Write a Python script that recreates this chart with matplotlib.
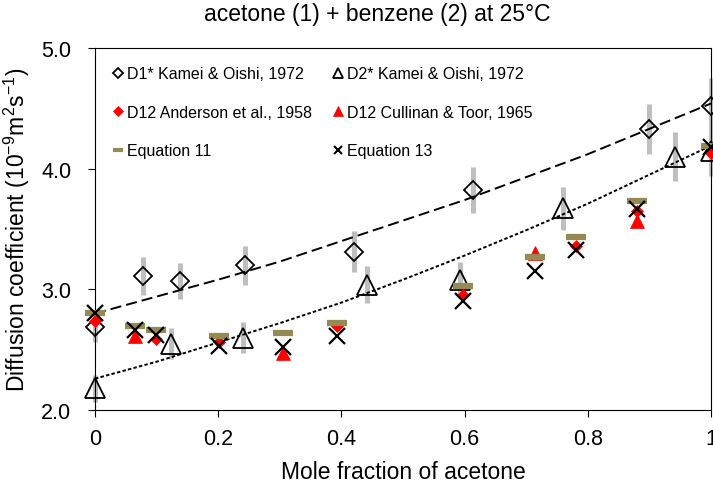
import matplotlib
matplotlib.use("Agg")
import matplotlib.pyplot as plt
from matplotlib.lines import Line2D

# ---------------- data ----------------
# D1* Kamei & Oishi, 1972 (open diamonds) with error bars
d1_x = [0.0, 0.078, 0.138, 0.244, 0.421, 0.614, 0.899, 1.0]
d1_y = [2.69, 3.11, 3.07, 3.20, 3.31, 3.82, 4.33, 4.52]
d1_err = [0.13, 0.16, 0.15, 0.16, 0.17, 0.19, 0.21, 0.23]

# D2* Kamei & Oishi, 1972 (open triangles) with error bars
d2_x = [0.0, 0.124, 0.241, 0.441, 0.593, 0.759, 0.942, 1.0]
d2_y = [2.18, 2.55, 2.60, 3.04, 3.08, 3.67, 4.10, 4.15]
d2_err = [0.11, 0.13, 0.13, 0.15, 0.15, 0.18, 0.20, 0.21]

# D12 Anderson et al., 1958 (red diamonds)
and_x = [0.0, 0.099, 0.201, 0.393, 0.598, 0.781, 0.880, 1.0]
and_y = [2.74, 2.59, 2.56, 2.70, 2.95, 3.36, 3.65, 4.13]

# D12 Cullinan & Toor, 1965 (red triangles)
cul_x = [0.065, 0.305, 0.714, 0.880]
cul_y = [2.61, 2.47, 3.30, 3.57]

# Equation 11 (olive bars)
eq11_x = [0.0, 0.065, 0.099, 0.201, 0.305, 0.393, 0.598, 0.714, 0.781, 0.880, 1.0]
eq11_y = [2.80, 2.70, 2.665, 2.615, 2.64, 2.72, 3.03, 3.265, 3.43, 3.73, 4.19]

# Equation 13 (crosses)
eq13_x = [0.0, 0.065, 0.099, 0.201, 0.305, 0.393, 0.598, 0.714, 0.781, 0.880, 1.0]
eq13_y = [2.80, 2.66, 2.62, 2.53, 2.52, 2.615, 2.905, 3.15, 3.33, 3.665, 4.18]

# trend curves
curve_x = [0.0, 0.1, 0.2, 0.3, 0.4, 0.5, 0.6, 0.7, 0.8, 0.9, 1.0]
trend1_y = [2.80, 2.94, 3.08, 3.23, 3.40, 3.57, 3.74, 3.93, 4.12, 4.33, 4.54]
trend2_y = [2.26, 2.40, 2.56, 2.72, 2.89, 3.08, 3.28, 3.49, 3.71, 3.95, 4.19]

x_ticks = [0, 0.2, 0.4, 0.6, 0.8, 1.0]
x_ticklabels = ["0", "0.2", "0.4", "0.6", "0.8", "1"]
y_ticks = [2.0, 3.0, 4.0, 5.0]
y_ticklabels = ["2.0", "3.0", "4.0", "5.0"]

title = "acetone (1) + benzene (2) at 25°C"
xlabel = "Mole fraction of acetone"
ylabel = r"Diffusion coefficient (10$^{-9}$m$^{2}$s$^{-1}$)"
labels = ["D1* Kamei & Oishi, 1972", "D12 Anderson et al., 1958", "Equation 11",
          "D2* Kamei & Oishi, 1972", "D12 Cullinan & Toor, 1965", "Equation 13"]

# ---------------- style ----------------
plt.rcParams['font.family'] = ['Liberation Sans', 'DejaVu Sans']
plt.rcParams['mathtext.default'] = 'regular'
plt.rcParams['lines.scale_dashes'] = False

OLIVE = '#948A54'
GREY = '#BFBFBF'
RED = '#FF0000'

fig = plt.figure(figsize=(7.13, 4.89), dpi=100)
ax = fig.add_axes([95 / 713, 78 / 489, 616 / 713, 362 / 489])

# error bars
ax.errorbar(d1_x, d1_y, yerr=d1_err, fmt='none', ecolor=GREY, elinewidth=3.6,
            capsize=0, zorder=2, clip_on=False)
ax.errorbar(d2_x, d2_y, yerr=d2_err, fmt='none', ecolor=GREY, elinewidth=3.6,
            capsize=0, zorder=2, clip_on=False)

# trend curves
ax.plot(curve_x, trend1_y, color='black', lw=1.4, dashes=(8, 3.6), zorder=3)
ax.plot(curve_x, trend2_y, color='black', lw=1.4, dashes=(2.5, 1.6), zorder=3)

# markers
ax.plot(d1_x, d1_y, linestyle='none', marker='D', ms=9, mfc='none', mec='black',
        mew=1.3, zorder=4, clip_on=False)
ax.plot(d2_x, d2_y, linestyle='none', marker='^', ms=14, mfc='none', mec='black',
        mew=1.3, zorder=4, clip_on=False)
ax.plot(and_x, and_y, linestyle='none', marker='D', ms=6.6, mfc=RED, mec=RED,
        mew=0.5, zorder=5, clip_on=False)
ax.plot(cul_x, cul_y, linestyle='none', marker='^', ms=10.5, mfc=RED, mec=RED,
        mew=0.5, zorder=5, clip_on=False)
ax.plot(eq11_x, eq11_y, linestyle='none', marker='_', ms=15, mec=OLIVE,
        mew=4.5, zorder=6, clip_on=False)
ax.plot(eq13_x, eq13_y, linestyle='none', marker='x', ms=12, mec='black',
        mew=1.6, zorder=7, clip_on=False)

# axes
ax.set_xlim(0, 1)
ax.set_ylim(2.0, 5.0)
ax.set_xticks(x_ticks)
ax.set_xticklabels(x_ticklabels)
ax.set_yticks(y_ticks)
ax.set_yticklabels(y_ticklabels)
ax.tick_params(axis='both', direction='out', length=5, width=0.8, labelsize=15.5,
               colors='black')
ax.tick_params(axis='x', pad=8)
ax.tick_params(axis='y', pad=12)
for s in ax.spines.values():
    s.set_linewidth(0.8)
    s.set_color('black')

ax.set_xlabel(xlabel, fontsize=16.5, labelpad=8)
ax.set_ylabel(ylabel, fontsize=16.5, labelpad=7)
fig.text(377 / 713, 1 - 15 / 489, title, fontsize=16.5, ha='center', va='center')

# legend with small proxy markers
h_d1 = Line2D([], [], linestyle='none', marker='D', ms=4.6, mfc='none', mec='black', mew=1.3)
h_and = Line2D([], [], linestyle='none', marker='D', ms=5, mfc=RED, mec=RED, mew=0.5)
h_eq11 = Line2D([], [], linestyle='none', marker='_', ms=7.5, mec=OLIVE, mew=3)
h_d2 = Line2D([], [], linestyle='none', marker='^', ms=6.8, mfc='none', mec='black', mew=1.3)
h_cul = Line2D([], [], linestyle='none', marker='^', ms=7, mfc=RED, mec=RED, mew=0.5)
h_eq13 = Line2D([], [], linestyle='none', marker='x', ms=6, mec='black', mew=1.5)
ax.legend([h_d1, h_and, h_eq11, h_d2, h_cul, h_eq13], labels, ncol=2,
          loc='upper left', bbox_to_anchor=(0.028, 0.949), frameon=False,
          fontsize=11.5, handlelength=0.75, handletextpad=0.15,
          columnspacing=1.3, labelspacing=1.47, borderpad=0, borderaxespad=0)

fig.savefig("out.png", dpi=100)
